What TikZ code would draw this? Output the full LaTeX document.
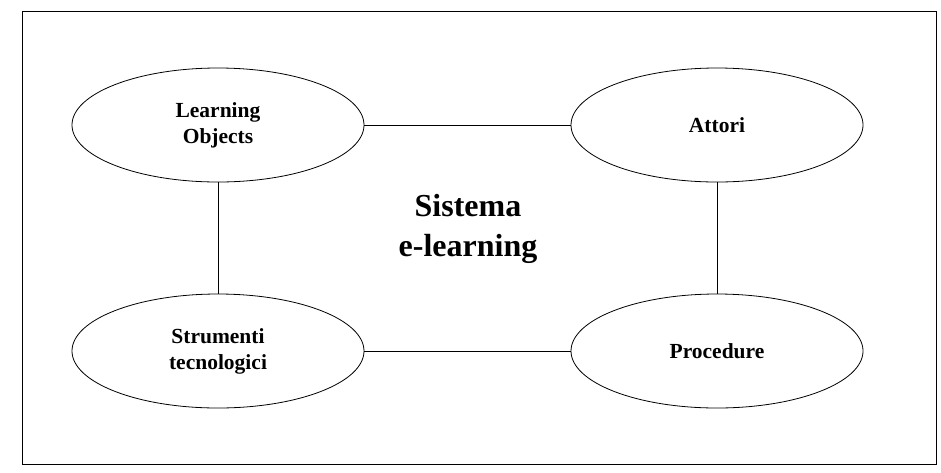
\documentclass[tikz,border=0pt]{standalone}
\usepackage{fontspec}
\setmainfont{Liberation Serif}
\usetikzlibrary{shapes.geometric}
\begin{document}
\begin{tikzpicture}[x=1pt,y=-1pt,
  oval/.style={draw, line width=0.8pt, ellipse, minimum width=292pt, minimum height=114pt, inner sep=0pt, align=center, font=\fontsize{21.5}{26}\selectfont\bfseries},
  link/.style={draw, line width=0.9pt}]
\useasboundingbox (0,0) rectangle (941,472);
\draw[line width=1pt] (22.5,11) rectangle (936,464);
\node[oval] (lo) at (218,125) {Learning\\Objects};
\node[oval] (at) at (717,125) {Attori};
\node[oval] (st) at (218,351) {Strumenti\\tecnologici};
\node[oval] (pr) at (717,351) {Procedure};
\node[align=center, font=\fontsize{32}{40}\selectfont\bfseries] (sys) at (468,229) {Sistema\\e-learning};
\draw[link] (lo.east) -- (at.west);
\draw[link] (st.east) -- (pr.west);
\draw[link] (lo.south) -- (st.north);
\draw[link] (at.south) -- (pr.north);
\end{tikzpicture}
\end{document}
